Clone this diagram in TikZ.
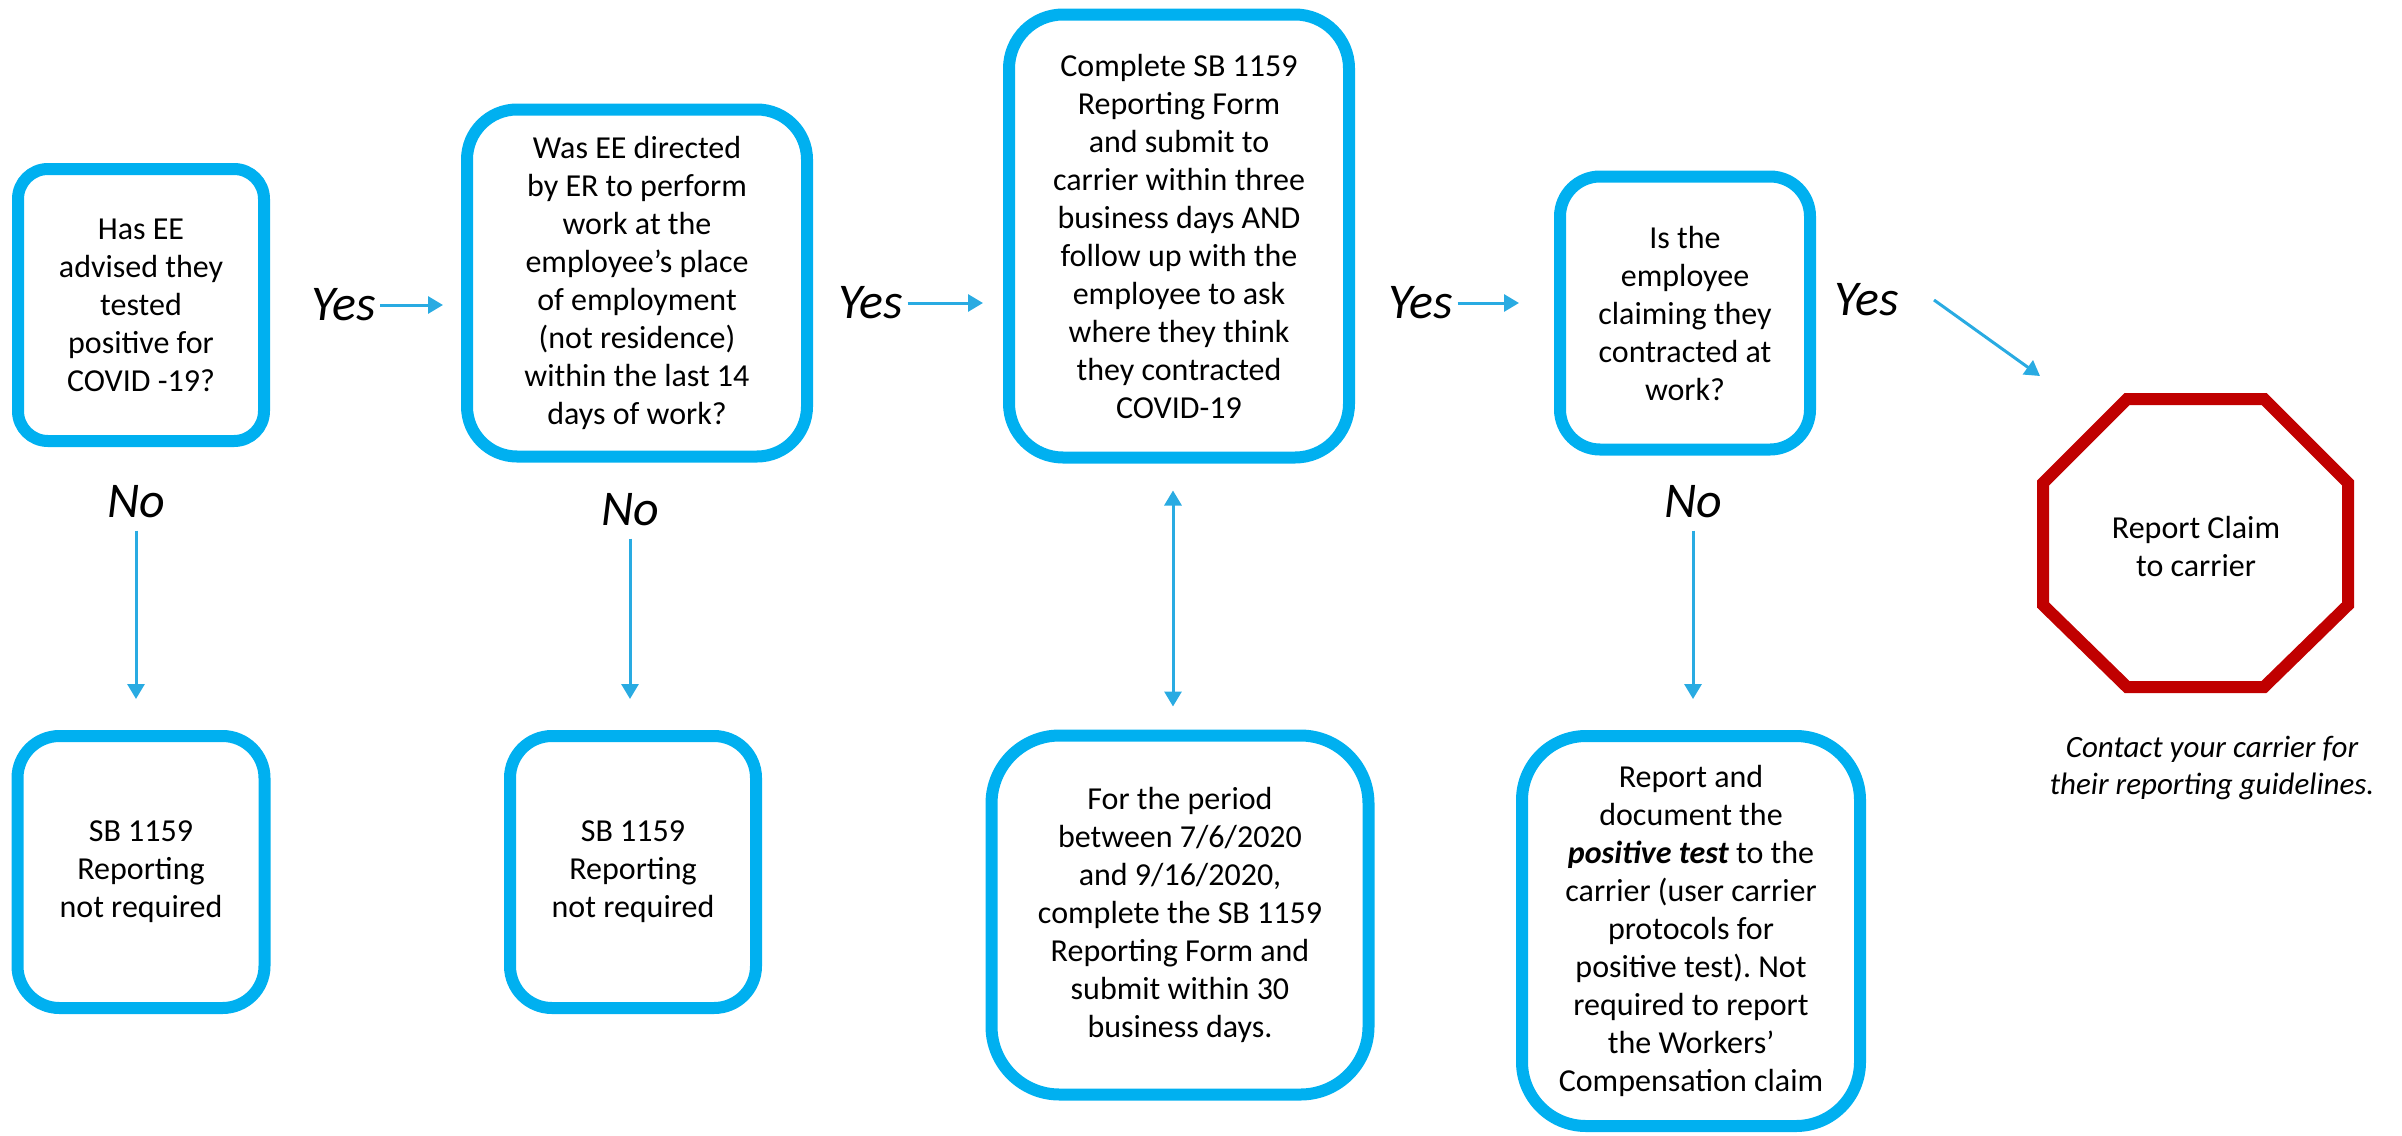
\documentclass[tikz,border=0pt]{standalone}
\usepackage{fontspec}
\setmainfont{Carlito}
\usetikzlibrary{arrows.meta,positioning}
\definecolor{boxblue}{RGB}{0,176,240}
\definecolor{arrblue}{RGB}{41,171,226}
\definecolor{stopred}{RGB}{192,0,0}
\frenchspacing

\begin{document}
\begin{tikzpicture}[x=0.5pt,y=-0.5pt,
  box/.style={draw=boxblue,line width=6pt,align=center,inner sep=0pt,
    font=\fontsize{16}{19}\selectfont},
  lbl/.style={font=\fontsize{25}{30}\selectfont\itshape,inner sep=2pt},
  arr/.style={draw=arrblue,line width=1.5pt,-{Triangle[length=7.5pt,width=8.5pt]}},
  down/.style={arr,shorten <=4pt},
  twoway/.style={draw=arrblue,line width=1.5pt,
    {Triangle[length=7.5pt,width=8.5pt]}-{Triangle[length=7.5pt,width=8.5pt]}}]
\useasboundingbox (0,0) rectangle (2402,1135);

% top row
\node[box,minimum width=123pt,minimum height=136pt,rounded corners=15pt] (q1) at (141,305) {Has EE\\advised they\\tested\\positive for\\COVID -19?};
\node[box,minimum width=170pt,minimum height=173.5pt,rounded corners=25pt] (q2) at (637,283) {Was EE directed\\by ER to perform\\work at the\\employee’s place\\of employment\\(not residence)\\within the last 14\\days of work?};
\node[box,minimum width=170pt,minimum height=221.5pt,rounded corners=27pt] (act) at (1179,236) {Complete SB 1159\\Reporting Form\\and submit to\\carrier within three\\business days AND\\follow up with the\\employee to ask\\where they think\\they contracted\\COVID-19};
\node[box,minimum width=125pt,minimum height=136.5pt,rounded corners=20pt] (q3) at (1685,313) {Is the\\employee\\claiming they\\contracted at\\work?};

% bottom row
\node[box,minimum width=123.5pt,minimum height=136pt,rounded corners=21pt] (nr1) at (141,872) {SB 1159\\Reporting\\not required};
\node[box,minimum width=123pt,minimum height=136pt,rounded corners=21pt] (nr2) at (633,872) {SB 1159\\Reporting\\not required};
\node[box,minimum width=188.5pt,minimum height=179.5pt,rounded corners=34pt] (period) at (1180,915) {For the period\\between 7/6/2020\\and 9/16/2020,\\complete the SB 1159\\Reporting Form and\\submit within 30\\business days.};
\node[box,minimum width=169pt,minimum height=195pt,rounded corners=32pt] (report) at (1691,931) {Report and\\document the\\\textbf{\textit{positive test}} to the\\carrier (user carrier\\protocols for\\positive test). Not\\required to report\\the Workers’\\Compensation claim};

% stop sign
\draw[stopred,line width=6pt,line join=miter] (2127,399) -- (2264,399) -- (2348,483) -- (2348,605) -- (2264,687) -- (2127,687) -- (2043,605) -- (2043,483) -- cycle;
\node[font=\fontsize{16}{19}\selectfont,align=center] (stop) at (2196,546) {Report Claim\\to carrier};
\node[font=\fontsize{15.5}{18.5}\selectfont\itshape,align=center] (note) at (2212,768) {Contact your carrier for\\their reporting guidelines.};

% yes
\node[lbl] (yes1) at (344,305) {Yes};
\node[lbl] (yes2) at (871,303) {Yes};
\node[lbl] (yes3) at (1421,303) {Yes};
\node[lbl] (yes4) at (1867,300) {Yes};
\coordinate (a1) at (443,305);
\coordinate (a2) at (983,303);
\coordinate (a3) at (1519,303);
\coordinate (d1) at (1934,300);
\coordinate (d2) at (2040,376);
\draw[arr] (yes1) -- (a1);
\draw[arr] (yes2) -- (a2);
\draw[arr] (yes3) -- (a3);
\draw[arr] (d1) -- (d2);

% no
\node[lbl] (no1) at (136,502) {No};
\node[lbl] (no2) at (630,510) {No};
\node[lbl] (no3) at (1693,502) {No};
\coordinate (b1) at (136,699);
\coordinate (b2) at (630,699);
\coordinate (b3) at (1693,699);
\draw[down] (no1) -- (b1);
\draw[down] (no2) -- (b2);
\draw[down] (no3) -- (b3);

\draw[twoway,shorten <=13.5pt,shorten >=11.5pt] ([xshift=-3pt]act.south) -- ([xshift=-3.5pt]period.north);

\end{tikzpicture}
\end{document}
